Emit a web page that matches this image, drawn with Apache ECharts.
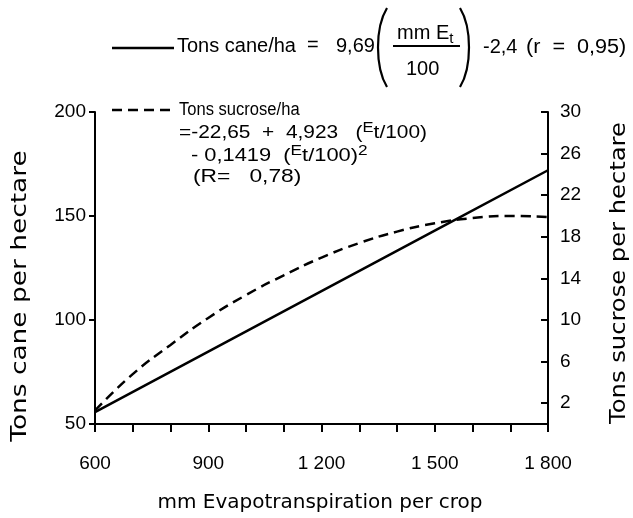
<!DOCTYPE html>
<html>
<head>
<meta charset="utf-8">
<script src="https://cdn.jsdelivr.net/npm/echarts@6/dist/echarts.min.js"></script>
<style>
  html, body { margin: 0; padding: 0; background: #fff; }
  #chart { width: 633px; height: 518px; }
</style>
</head>
<body>
<div id="chart"></div>
<script>
// evapotranspiration (mm per crop)
var caneX = [600, 900, 1200, 1500, 1800];
var caneY = [55.7, 84.8, 113.9, 143.0, 172.0];          // tons cane per ha (left axis)
var sucroseX = [600, 700, 800, 900, 1000, 1100, 1200, 1300, 1400, 1500, 1600, 1700, 1800];
var sucroseY = [1.3, 4.8, 7.6, 10.2, 12.4, 14.3, 16.0, 17.4, 18.5, 19.3, 19.8, 20.0, 19.9]; // right axis
var xTicks = [600, 700, 800, 900, 1000, 1100, 1200, 1300, 1400, 1500, 1600, 1700, 1800];
var xLabels = [600, 900, 1200, 1500, 1800];
var rightLabels = [2, 6, 10, 14, 18, 22, 26, 30];

var FONT = 'Liberation Sans';
var NAMEFONT = 'DejaVu Sans';

function pairs(xs, ys) {
	var out = [];
	for (var i = 0; i < xs.length; i++) out.push([xs[i], ys[i]]);
	return out;
}

// rich styles for raised / lowered bits
var RICH = {
	sup: { fontSize: 15, fontFamily: FONT, lineHeight: 15, verticalAlign: 'top' },
	sub: { fontSize: 15, fontFamily: FONT, lineHeight: 15, verticalAlign: 'bottom' }
};

// text piece, x = left edge, y = vertical centre
function T(x, y, s, size, opt) {
	opt = opt || {};
	var al = opt.align || 'left';
	return {
		type: 'text', x: x, y: y,
		rotation: opt.rotation || 0,
		scaleX: opt.scaleX || 1,
		scaleY: opt.scaleY || 1,
		style: {
			text: s, font: (size || 16) + 'px ' + (opt.family || FONT), fill: '#000',
			lineHeight: opt.lineHeight, rich: opt.rich ? RICH : undefined,
			align: al, textAlign: al, verticalAlign: 'middle', textVerticalAlign: 'middle'
		}
	};
}

function paren(xTip, xEnd, y1, y2) {
	return {
		type: 'bezierCurve',
		shape: { x1: xEnd, y1: y1, x2: xEnd, y2: y2, cpx1: xTip, cpy1: y1 + (y2 - y1) * 0.25, cpx2: xTip, cpy2: y1 + (y2 - y1) * 0.75 },
		style: { stroke: '#000', lineWidth: 2.2, fill: null }
	};
}

var myChart = echarts.init(document.getElementById('chart'));

var option = {
	animation: false,
	backgroundColor: '#fff',
	textStyle: { fontFamily: FONT, color: '#000' },
	grid: { left: 95, right: 85, top: 112, bottom: 94 },
	xAxis: {
		type: 'value', min: 600, max: 1800, interval: 100,
		axisLine: { lineStyle: { color: '#000', width: 2 } },
		axisTick: { length: 8, lineStyle: { color: '#000', width: 2 }, customValues: xTicks },
		axisLabel: {
			fontSize: 19, color: '#000', margin: 30, fontFamily: FONT,
			customValues: xLabels,
			formatter: function (v) { return v >= 1000 ? String(v).replace(/(\d)(\d{3})$/, '$1 $2') : String(v); }
		},
		splitLine: { show: false }
	},
	yAxis: [{
		type: 'value', min: 50, max: 200, interval: 50,
		axisLine: { show: true, lineStyle: { color: '#000', width: 2 } },
		axisTick: { length: 6, lineStyle: { color: '#000', width: 2 } },
		axisLabel: { fontSize: 19, color: '#000', margin: 9, fontFamily: FONT },
		splitLine: { show: false }
	}, {
		type: 'value', min: 0, max: 30, interval: 2, position: 'right',
		axisLine: { show: true, lineStyle: { color: '#000', width: 2 } },
		axisTick: { inside: true, length: 7, lineStyle: { color: '#000', width: 2 }, customValues: rightLabels },
		axisLabel: { fontSize: 19, color: '#000', margin: 12, fontFamily: FONT, customValues: rightLabels },
		splitLine: { show: false }
	}],
	series: [{
		type: 'line', name: 'cane', yAxisIndex: 0,
		data: pairs(caneX, caneY),
		symbol: 'none',
		lineStyle: { color: '#000', width: 2.5 }
	}, {
		type: 'line', name: 'sucrose', yAxisIndex: 1,
		data: pairs(sucroseX, sucroseY),
		symbol: 'none', smooth: true,
		lineStyle: { color: '#000', width: 2.5, type: [10, 6] }
	}],
	graphic: [
		// axis names
		T(320, 503, 'mm Evapotranspiration per crop', 20, { align: 'center', family: NAMEFONT }),
		T(20, 296, 'Tons cane per hectare', 22, { align: 'center', family: NAMEFONT, rotation: Math.PI / 2, scaleX: 1.2 }),
		T(619, 273, 'Tons sucrose per hectare', 22, { align: 'center', family: NAMEFONT, rotation: Math.PI / 2, scaleX: 1.1 }),

		// top legend: solid line + cane equation
		{ type: 'line', shape: { x1: 112, y1: 48, x2: 174, y2: 48 }, style: { stroke: '#000', lineWidth: 2.5 } },
		T(177, 46, 'Tons cane/ha', 20),
		T(307, 45, '=', 20),
		T(336, 46, '9,69', 20),
		paren(375, 387, 8, 87),
		T(397, 33, 'mm E{sub|t}', 20, { rich: true, lineHeight: 26 }),
		{ type: 'line', shape: { x1: 393, y1: 46, x2: 460, y2: 46 }, style: { stroke: '#000', lineWidth: 2 } },
		T(406, 69, '100', 20),
		paren(472, 460, 8, 87),
		T(483, 47, '-2,4', 20),
		T(526, 47, '(r  =  0,95)', 20, { scaleX: 1.08 }),

		// in-plot annotation: dashed line + sucrose equation
		{ type: 'line', shape: { x1: 112, y1: 110, x2: 170, y2: 110 }, style: { stroke: '#000', lineWidth: 2.5, lineDash: [10, 6] } },
		T(179, 110, 'Tons sucrose/ha', 18, { scaleX: 0.92 }),
		T(179, 133, '=-22,65  +  4,923   ({sup|E}t/100)', 19, { rich: true, lineHeight: 26, scaleX: 1.1 }),
		T(191, 156, '- 0,1419  ({sup|E}t/100){sup|2}', 19, { rich: true, lineHeight: 26, scaleX: 1.15 }),
		T(193, 177, '(R=   0,78)', 19, { scaleX: 1.2 })
	]
};

myChart.setOption(option);
</script>
</body>
</html>
